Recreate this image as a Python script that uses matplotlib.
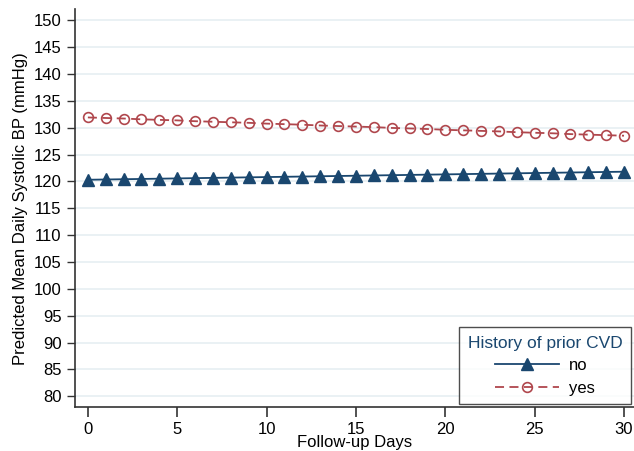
import numpy as np
import matplotlib.pyplot as plt

plt.rcParams['font.family'] = ['Liberation Sans', 'DejaVu Sans']

# DATA
days = list(range(31))
bp_no = [120.3, 120.35, 120.4, 120.45, 120.5, 120.55, 120.6, 120.65, 120.7, 120.75,
         120.8, 120.85, 120.9, 120.95, 121.0, 121.05, 121.1, 121.15, 121.2, 121.25,
         121.3, 121.35, 121.4, 121.45, 121.5, 121.55, 121.6, 121.65, 121.7, 121.75, 121.8]
bp_yes = [131.9, 131.8, 131.7, 131.55, 131.45, 131.35, 131.2, 131.1, 131.0, 130.9,
          130.75, 130.65, 130.55, 130.4, 130.3, 130.2, 130.1, 129.95, 129.85, 129.75,
          129.6, 129.5, 129.4, 129.3, 129.15, 129.05, 128.95, 128.8, 128.7, 128.6, 128.5]
y_ticks = list(range(80, 151, 5))
x_ticks = [0, 5, 10, 15, 20, 25, 30]

NAVY = '#1a476f'
MAROON = '#b0474d'
GRID = '#e6eff2'

fig = plt.figure(figsize=(6.34, 4.51), dpi=100)
ax = fig.add_axes([0.118, 0.097, 0.882, 0.882])

ax.plot(days, bp_no, color=NAVY, lw=1.3, marker='^', markersize=8,
        markerfacecolor=NAVY, markeredgecolor=NAVY, label='no', zorder=3)
ax.plot(days, bp_yes, color=MAROON, lw=1.3, ls=(0, (5, 3)), marker='o', markersize=7,
        markerfacecolor='none', markeredgecolor=MAROON, markeredgewidth=1.2,
        label='yes', zorder=3)

ax.set_xlim(-0.73, 30.56)
ax.set_ylim(77.95, 152)
ax.set_yticks(y_ticks)
ax.set_xticks(x_ticks)
ax.tick_params(axis='both', labelsize=12, direction='out', color='#333333')
ax.tick_params(axis='x', length=7, width=1.2)
ax.tick_params(axis='y', length=6, width=1.0)

ax.grid(axis='y', color=GRID, lw=1.2, zorder=0)
ax.set_axisbelow(True)
for side in ['top', 'right']:
    ax.spines[side].set_visible(False)
for side in ['left', 'bottom']:
    ax.spines[side].set_color('#333333')
    ax.spines[side].set_linewidth(1.2)

ax.set_ylabel('Predicted Mean Daily Systolic BP (mmHg)', fontsize=12, labelpad=4)
ax.set_xlabel('Follow-up Days', fontsize=12, labelpad=-1)

leg = ax.legend(title='History of prior CVD', loc='lower right', fontsize=12,
                title_fontsize=12.5, frameon=True, fancybox=False, edgecolor='#222222',
                handlelength=3.8, handletextpad=0.6, borderaxespad=0.2,
                borderpad=0.5, labelspacing=0.45)
leg.get_title().set_color(NAVY)
leg.get_frame().set_linewidth(1.0)

fig.savefig('out.png', dpi=100)
